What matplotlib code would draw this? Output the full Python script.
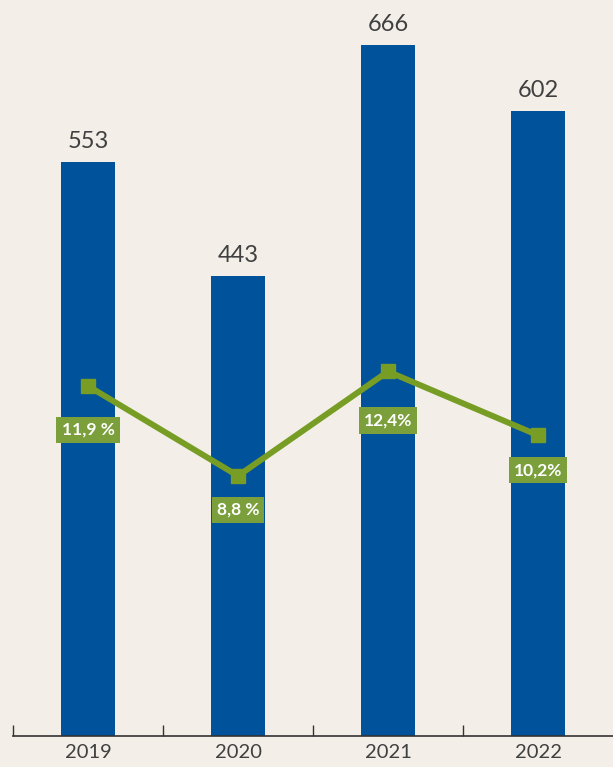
import matplotlib.pyplot as plt
import numpy as np

years = ["2019", "2020", "2021", "2022"]
values = [553, 443, 666, 602]
shares = [11.9, 8.8, 12.4, 10.2]
share_labels = ["11,9 %", "8,8 %", "12,4%", "10,2%"]

bg = "#f3efe8"
blue = "#00529b"
green = "#789d25"
box_green = "#7a9f3b"
text_col = "#404040"

# how far (in pixels) each percentage box sits under its marker
label_drop = [44, 34, 49, 35]

fig = plt.figure(figsize=(6.13, 7.67), dpi=100, facecolor=bg)
ax = fig.add_axes([13 / 613, 31 / 767, 600 / 613, 736 / 767])
ax.set_facecolor(bg)

x = np.arange(len(years))
bars = ax.bar(x, values, width=0.36, color=blue, zorder=2)
ax.set_xlim(-0.5, 3.5)
ax.set_ylim(0, 709)

for xi, v in zip(x, values):
    ax.annotate(str(v), (xi, v), xytext=(0, 7), textcoords="offset points",
                ha="center", va="bottom", fontsize=17, color=text_col,
                family="Lato", fontweight="normal")

for s in ["top", "right", "left"]:
    ax.spines[s].set_visible(False)
ax.spines["bottom"].set_color("#333333")
ax.spines["bottom"].set_linewidth(1.2)
ax.set_yticks([])
ax.set_xticks(x)
ax.set_xticklabels(years, fontsize=14.5, color=text_col, family="Lato", fontweight="normal")
ax.tick_params(axis="x", which="major", length=0, pad=6)
ax.set_xticks([-0.5, 0.5, 1.5, 2.5], minor=True)
ax.tick_params(axis="x", which="minor", direction="in", length=8, width=1, color="#333333")

ax2 = ax.twinx()
ax2.set_ylim(-0.17, 25.21)
ax2.axis("off")
ax2.plot(x, shares, color=green, lw=4.3, marker="s", markersize=10, zorder=3)

for xi, s, lab, d in zip(x, shares, share_labels, label_drop):
    ax2.annotate(lab, (xi, s), xytext=(0, -d * 0.72), textcoords="offset points",
                 ha="center", va="center", fontsize=12.5, color="white",
                 family="Lato", fontweight="bold",
                 bbox=dict(boxstyle="square,pad=0.3", fc=box_green, ec="none"))

plt.savefig("out.png", dpi=100, facecolor=bg)
